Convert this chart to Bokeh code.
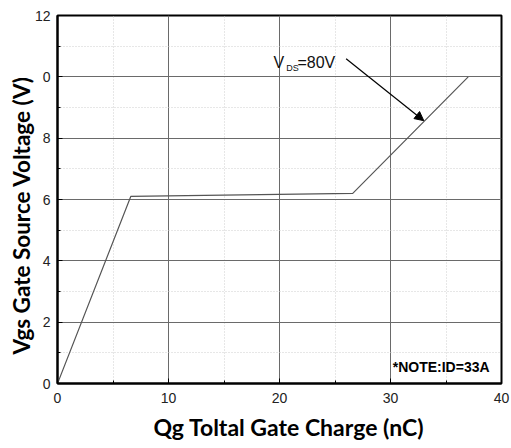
from bokeh.plotting import figure
from bokeh.models import Label, Arrow, NormalHead, FixedTicker, Title
from bokeh.embed import file_html
from bokeh.resources import INLINE

# ---- data ----
qg_nc = [0.0, 6.6, 26.6, 37.0]
vgs_v = [0.0, 6.1, 6.2, 10.0]

x_ticks = [0, 10, 20, 30, 40]
y_ticks = [0, 2, 4, 6, 8, 10, 12]
y_tick_labels = {10: "0"}  # as printed in the reference (clipped "10")

arrow_start = (26.0, 10.59)
arrow_end = (33.0, 8.57)

x_title = "Qg Toltal Gate Charge (nC)"
y_title = "Vgs Gate Source Voltage (V)"
note_text = "*NOTE:ID=33A"

# ---- figure ----
p = figure(width=511, height=448, x_range=(0, 40), y_range=(0, 12),
           output_backend="svg", toolbar_location=None,
           min_border_left=57, min_border_right=10,
           min_border_top=15, min_border_bottom=65)
p.background_fill_color = "white"
p.border_fill_color = "white"
p.outline_line_color = "black"
p.outline_line_width = 2

p.xaxis.ticker = FixedTicker(ticks=x_ticks, minor_ticks=[5, 15, 25, 35])
p.yaxis.ticker = FixedTicker(ticks=y_ticks, minor_ticks=[1, 3, 5, 7, 9, 11])
p.yaxis.major_label_overrides = y_tick_labels

for ax in (p.xaxis, p.yaxis):
    ax.axis_line_color = "black"
    ax.axis_line_width = 2
    ax.major_tick_in = 5
    ax.major_tick_out = 0
    ax.minor_tick_in = 3
    ax.minor_tick_out = 0
    ax.major_tick_line_color = "black"
    ax.minor_tick_line_color = "black"
    ax.major_label_text_font = "Liberation Sans"
    ax.major_label_text_font_size = "14px"
    ax.major_label_text_color = "#222222"
p.xaxis.major_label_standoff = 9
p.yaxis.major_label_standoff = 7

for g in (p.xgrid, p.ygrid):
    g.grid_line_color = "#6a6a6a"
    g.grid_line_width = 1
    g.minor_grid_line_color = "#cfcfcf"
    g.minor_grid_line_dash = "1 2"
    g.minor_grid_line_width = 1

p.line(qg_nc, vgs_v, line_color="#555555", line_width=1.2)

p.add_layout(Arrow(end=NormalHead(size=9, fill_color="black", line_color="black"),
                   x_start=arrow_start[0], y_start=arrow_start[1],
                   x_end=arrow_end[0], y_end=arrow_end[1],
                   line_color="black", line_width=1.2))

# V_DS=80V annotation
p.add_layout(Label(x=19.45, y=10.48, text="V", text_font="Liberation Sans",
                   text_font_size="16px", text_color="#111111",
                   text_baseline="alphabetic", text_align="left"))
p.add_layout(Label(x=20.6, y=10.28, text="DS", text_font="Liberation Sans",
                   text_font_size="9px", text_color="#111111",
                   text_baseline="alphabetic", text_align="left"))
p.add_layout(Label(x=21.62, y=10.48, text="=80V", text_font="Liberation Sans",
                   text_font_size="16px", text_color="#111111",
                   text_baseline="alphabetic", text_align="left"))

# note
p.add_layout(Label(x=30.2, y=0.55, text=note_text, text_font="Liberation Sans",
                   text_font_style="bold", text_font_size="14px", text_color="black",
                   text_baseline="middle", text_align="left"))

# axis titles
p.add_layout(Title(text=x_title, align="left", offset=96, standoff=10,
                   text_font="Lato", text_font_style="bold", text_font_size="23px",
                   text_color="black"), "below")
p.add_layout(Title(text=y_title, align="left", offset=29, standoff=-7,
                   text_font="Lato", text_font_style="bold", text_font_size="22.5px",
                   text_color="black"), "left")

open("out.html", "w").write(file_html(p, INLINE))
